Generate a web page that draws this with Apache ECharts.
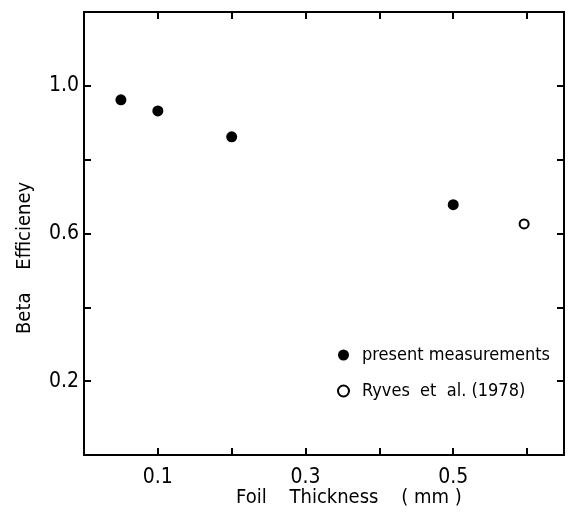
<!DOCTYPE html>
<html><head><meta charset="utf-8">
<script src="https://cdn.jsdelivr.net/npm/echarts@6/dist/echarts.min.js"></script>
<style>html,body{margin:0;padding:0;background:#fff}#c{width:568px;height:515px}</style>
</head><body><div id="c"></div>
<script>
const presentX = [0.05, 0.10, 0.20, 0.50];
const presentY = [0.962, 0.932, 0.862, 0.678];
const ryvesX = [0.596];
const ryvesY = [0.626];
const xTickLabels = ['0.1', '0.3', '0.5'];
const yTickLabels = ['0.2', '0.6', '1.0'];
const seriesNames = ['present measurements', 'Ryves  et  al. (1978)'];

const FONT = "'DejaVu Sans Condensed','Liberation Sans',sans-serif";
const chart = echarts.init(document.getElementById('c'), null, {renderer: 'canvas'});
const axisCommon = {
  type: 'value',
  axisLine: {show: true, onZero: false, lineStyle: {color: '#000', width: 2}},
  axisTick: {show: true, inside: true, length: 7, lineStyle: {color: '#000', width: 2}},
  splitLine: {show: false}
};
chart.setOption({
  animation: false,
  backgroundColor: '#fff',
  grid: {left: 84, right: 4, top: 12, bottom: 60},
  xAxis: [
    Object.assign({}, axisCommon, {
      position: 'bottom', min: 0, max: 0.65, interval: 0.1,
      axisLabel: {color: '#000', fontFamily: FONT, fontSize: 21, margin: 12,
        formatter: v => { const s = v.toFixed(1); return xTickLabels.includes(s) && Math.abs(v - parseFloat(s)) < 1e-9 ? s : ''; }}
    }),
    Object.assign({}, axisCommon, {
      position: 'top', min: 0, max: 0.65, interval: 0.1, axisLabel: {show: false}
    })
  ],
  yAxis: [
    Object.assign({}, axisCommon, {
      position: 'left', min: 0, max: 1.2, interval: 0.2,
      axisLabel: {color: '#000', fontFamily: FONT, fontSize: 21, margin: 5,
        formatter: v => { const s = v.toFixed(1); return yTickLabels.includes(s) && Math.abs(v - parseFloat(s)) < 1e-9 ? s : ''; }}
    }),
    Object.assign({}, axisCommon, {
      position: 'right', min: 0, max: 1.2, interval: 0.2, axisLabel: {show: false}
    })
  ],
  legend: {
    orient: 'vertical', left: 332, top: 341, itemGap: 18,
    itemWidth: 11, itemHeight: 11,
    textStyle: {color: '#000', fontFamily: FONT, fontSize: 18, padding: [0, 0, 0, 8]},
    data: [seriesNames[0], seriesNames[1]]
  },
  series: [
    {name: seriesNames[0], type: 'scatter', symbol: 'circle', symbolSize: 11,
     itemStyle: {color: '#000', opacity: 1},
     data: presentX.map((x, i) => [x, presentY[i]])},
    {name: seriesNames[1], type: 'scatter', symbol: 'emptyCircle', symbolSize: 9,
     itemStyle: {color: '#000', borderColor: '#000', borderWidth: 2, opacity: 1},
     data: ryvesX.map((x, i) => [x, ryvesY[i]])}
  ],
  graphic: [
    {type: 'text', left: 236, top: 488,
     style: {text: 'Foil    Thickness    ( mm )', fill: '#000', font: "20px " + FONT}},
    {type: 'text', x: 15, y: 334, rotation: Math.PI / 2,
     style: {text: 'Beta    Efficieney', fill: '#000', font: "20px " + FONT}}
  ]
});
</script></body></html>
